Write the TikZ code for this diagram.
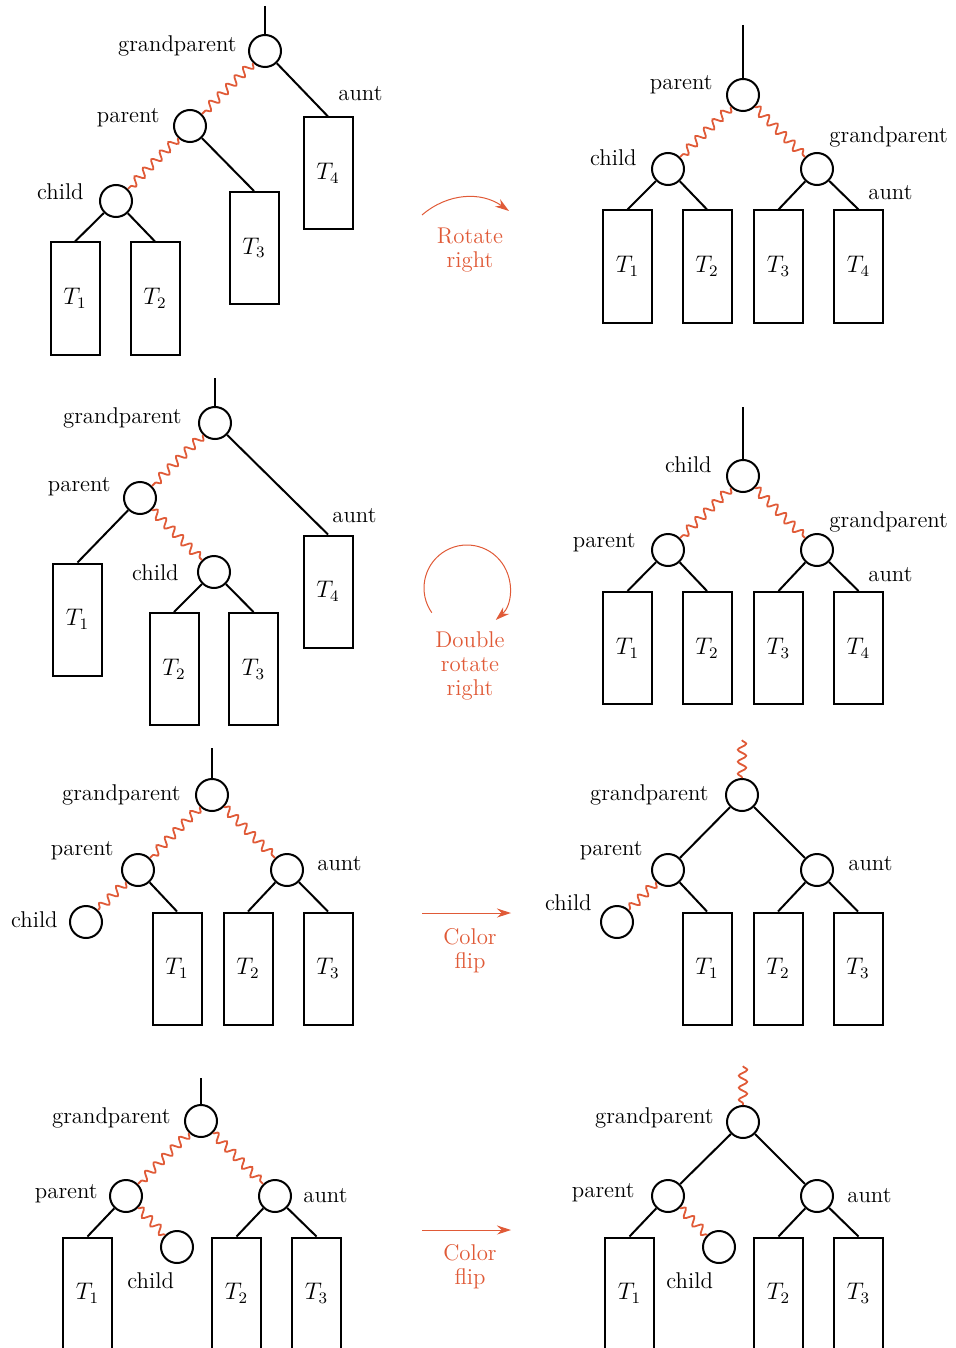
\documentclass[tikz,border=0pt]{standalone}
\usetikzlibrary{arrows.meta,decorations.pathmorphing}
\definecolor{accent}{HTML}{E05A37}

\begin{document}
\begin{tikzpicture}[x=0.5pt,y=-0.5pt,
      vtx/.style={circle,draw,line width=1pt,minimum size=16pt,inner sep=0pt},
      sub/.style={rectangle,draw,line width=1pt,minimum width=24.5pt,minimum height=56pt,
                  inner sep=0pt,font=\fontsize{11.6}{12}\selectfont},
      lnk/.style={line width=1pt},
      red/.style={draw=accent,line width=0.9pt,decorate,
                  decoration={snake,segment length=6pt,amplitude=2.1pt}},
      lbl/.style={font=\fontsize{11.4}{12}\selectfont,inner sep=0pt},
      op/.style={lbl,text=accent,align=center},
      arr/.style={-{Stealth[length=7pt,width=4.5pt]},draw=accent,line width=0.5pt}]

    \useasboundingbox (0,0) rectangle (956,1348);

    % rotate right
    \coordinate (r1) at (265,6);
    \node[vtx] (g1) at (265,51) {};
    \node[vtx] (p1) at (190,126) {};
    \node[vtx] (c1) at (116,201) {};
    \node[sub] (T11) at (75,298.5) {$T_1$};
    \node[sub] (T12) at (155,298.5) {$T_2$};
    \node[sub] (T13) at (254,248) {$T_3$};
    \node[sub] (T14) at (328,173.5) {$T_4$};
    \draw[lnk] (r1) -- (g1);
    \draw[lnk] (g1) -- (T14.north);
    \draw[lnk] (p1) -- (T13.north);
    \draw[lnk] (c1) -- (T11.north);
    \draw[lnk] (c1) -- (T12.north);
    \draw[red] (g1) -- (p1);
    \draw[red] (p1) -- (c1);
    \node[lbl,anchor=base east] (lg1) at (237,52) {grandparent};
    \node[lbl,anchor=base east] (lp1) at (160,123) {parent};
    \node[lbl,anchor=base east] (lc1) at (84,199) {child};
    \node[lbl,anchor=base west] (la1) at (338,101) {aunt};

    \coordinate (s1) at (422,215);
    \coordinate (e1) at (509,211);
    \draw[arr] (s1) to[bend left=38] (e1);
    \node[op] (rot1) at (470,250) {Rotate\\right};

    \coordinate (r2) at (743,25);
    \node[vtx] (p2) at (743,95) {};
    \node[vtx] (c2) at (668,169) {};
    \node[vtx] (g2) at (817,169) {};
    \node[sub] (T21) at (627.5,266.5) {$T_1$};
    \node[sub] (T22) at (707,266.5) {$T_2$};
    \node[sub] (T23) at (778.5,266.5) {$T_3$};
    \node[sub] (T24) at (858.5,266.5) {$T_4$};
    \draw[lnk] (r2) -- (p2);
    \draw[lnk] (c2) -- (T21.north);
    \draw[lnk] (c2) -- (T22.north);
    \draw[lnk] (g2) -- (T23.north);
    \draw[lnk] (g2) -- (T24.north);
    \draw[red] (p2) -- (c2);
    \draw[red] (p2) -- (g2);
    \node[lbl,anchor=base east] (lp2) at (713,90) {parent};
    \node[lbl,anchor=base east] (lc2) at (637,166) {child};
    \node[lbl,anchor=base west] (lg2) at (829,143) {grandparent};
    \node[lbl,anchor=base west] (la2) at (868,199) {aunt};

    % double rotate right
    \coordinate (r3) at (215,378);
    \node[vtx] (g3) at (215,423) {};
    \node[vtx] (p3) at (140,498) {};
    \node[vtx] (c3) at (214,572) {};
    \node[sub] (T31) at (77.5,619.5) {$T_1$};
    \node[sub] (T32) at (174,669) {$T_2$};
    \node[sub] (T33) at (253.5,669) {$T_3$};
    \node[sub] (T34) at (328,591.5) {$T_4$};
    \draw[lnk] (r3) -- (g3);
    \draw[lnk] (g3) -- (T34.north);
    \draw[lnk] (p3) -- (T31.north);
    \draw[lnk] (c3) -- (T32.north);
    \draw[lnk] (c3) -- (T33.north);
    \draw[red] (g3) -- (p3);
    \draw[red] (p3) -- (c3);
    \node[lbl,anchor=base east] (lg3) at (182,423) {grandparent};
    \node[lbl,anchor=base east] (lp3) at (111,491) {parent};
    \node[lbl,anchor=base east] (lc3) at (179,580) {child};
    \node[lbl,anchor=base west] (la3) at (332,522) {aunt};

    \coordinate (o2) at (467,588);
    \draw[arr] ([shift={(215:21.5pt)}]o2) arc[start angle=215,end angle=-48,radius=21.5pt];
    \node[op] (rot2) at (470,666) {Double\\rotate\\right};

    \coordinate (r4) at (743,407);
    \node[vtx] (c4) at (743,476) {};
    \node[vtx] (p4) at (668,550) {};
    \node[vtx] (g4) at (817,550) {};
    \node[sub] (T41) at (627.5,648) {$T_1$};
    \node[sub] (T42) at (707,648) {$T_2$};
    \node[sub] (T43) at (778.5,648) {$T_3$};
    \node[sub] (T44) at (858.5,648) {$T_4$};
    \draw[lnk] (r4) -- (c4);
    \draw[lnk] (p4) -- (T41.north);
    \draw[lnk] (p4) -- (T42.north);
    \draw[lnk] (g4) -- (T43.north);
    \draw[lnk] (g4) -- (T44.north);
    \draw[red] (c4) -- (p4);
    \draw[red] (c4) -- (g4);
    \node[lbl,anchor=base east] (lc4) at (712,472) {child};
    \node[lbl,anchor=base east] (lp4) at (636,547) {parent};
    \node[lbl,anchor=base west] (lg4) at (829,527) {grandparent};
    \node[lbl,anchor=base west] (la4) at (868,581) {aunt};

    % color flip, outer child
    \coordinate (r5) at (212,748);
    \node[vtx] (g5) at (212,795) {};
    \node[vtx] (p5) at (138,870) {};
    \node[vtx] (a5) at (287,870) {};
    \node[vtx] (c5) at (86,922) {};
    \node[sub] (T51) at (177,968.5) {$T_1$};
    \node[sub] (T52) at (248,968.5) {$T_2$};
    \node[sub] (T53) at (328,968.5) {$T_3$};
    \draw[lnk] (r5) -- (g5);
    \draw[lnk] (p5) -- (T51.north);
    \draw[lnk] (a5) -- (T52.north);
    \draw[lnk] (a5) -- (T53.north);
    \draw[red] (g5) -- (p5);
    \draw[red] (g5) -- (a5);
    \draw[red] (p5) -- (c5);
    \node[lbl,anchor=base east] (lg5) at (181,800) {grandparent};
    \node[lbl,anchor=base east] (lp5) at (114,855) {parent};
    \node[lbl,anchor=base west] (la5) at (317,870) {aunt};
    \node[lbl,anchor=base east] (lc5) at (58,927) {child};

    \coordinate (s3) at (422,913);
    \coordinate (e3) at (511,913);
    \draw[arr] (s3) -- (e3);
    \node[op] (flip3) at (470,951) {Color\\flip};

    \coordinate (r6) at (742,740);
    \node[vtx] (g6) at (742,795) {};
    \node[vtx] (p6) at (668,870) {};
    \node[vtx] (a6) at (817,870) {};
    \node[vtx] (c6) at (617,922) {};
    \node[sub] (T61) at (707,968.5) {$T_1$};
    \node[sub] (T62) at (778,968.5) {$T_2$};
    \node[sub] (T63) at (858,968.5) {$T_3$};
    \draw[red] (r6) -- (g6);
    \draw[lnk] (g6) -- (p6);
    \draw[lnk] (g6) -- (a6);
    \draw[lnk] (p6) -- (T61.north);
    \draw[lnk] (a6) -- (T62.north);
    \draw[lnk] (a6) -- (T63.north);
    \draw[red] (p6) -- (c6);
    \node[lbl,anchor=base east] (lg6) at (709,800) {grandparent};
    \node[lbl,anchor=base east] (lp6) at (643,855) {parent};
    \node[lbl,anchor=base west] (la6) at (848,870) {aunt};
    \node[lbl,anchor=base east] (lc6) at (592,910) {child};

    % color flip, inner child
    \coordinate (r7) at (201,1078);
    \node[vtx] (g7) at (201,1121) {};
    \node[vtx] (p7) at (126,1196) {};
    \node[vtx] (a7) at (275,1196) {};
    \node[vtx] (c7) at (177,1247) {};
    \node[sub] (T71) at (87.5,1293.5) {$T_1$};
    \node[sub] (T72) at (236.5,1293.5) {$T_2$};
    \node[sub] (T73) at (316.5,1293.5) {$T_3$};
    \draw[lnk] (r7) -- (g7);
    \draw[lnk] (p7) -- (T71.north);
    \draw[lnk] (a7) -- (T72.north);
    \draw[lnk] (a7) -- (T73.north);
    \draw[red] (g7) -- (p7);
    \draw[red] (g7) -- (a7);
    \draw[red] (p7) -- (c7);
    \node[lbl,anchor=base east] (lg7) at (171,1123) {grandparent};
    \node[lbl,anchor=base east] (lp7) at (98,1198) {parent};
    \node[lbl,anchor=base west] (la7) at (303,1202) {aunt};
    \node[lbl,anchor=base west] (lc7) at (127,1288) {child};

    \coordinate (s4) at (422,1230);
    \coordinate (e4) at (511,1230);
    \draw[arr] (s4) -- (e4);
    \node[op] (flip4) at (470,1267) {Color\\flip};

    \coordinate (r8) at (743,1066);
    \node[vtx] (g8) at (743,1122) {};
    \node[vtx] (p8) at (668,1196) {};
    \node[vtx] (a8) at (817,1196) {};
    \node[vtx] (c8) at (719,1247) {};
    \node[sub] (T81) at (629.5,1293.5) {$T_1$};
    \node[sub] (T82) at (778.5,1293.5) {$T_2$};
    \node[sub] (T83) at (858.5,1293.5) {$T_3$};
    \draw[red] (r8) -- (g8);
    \draw[lnk] (g8) -- (p8);
    \draw[lnk] (g8) -- (a8);
    \draw[lnk] (p8) -- (T81.north);
    \draw[lnk] (a8) -- (T82.north);
    \draw[lnk] (a8) -- (T83.north);
    \draw[red] (p8) -- (c8);
    \node[lbl,anchor=base east] (lg8) at (714,1123) {grandparent};
    \node[lbl,anchor=base east] (lp8) at (635,1197) {parent};
    \node[lbl,anchor=base west] (la8) at (847,1202) {aunt};
    \node[lbl,anchor=base west] (lc8) at (666,1288) {child};
  \end{tikzpicture}
\end{document}
